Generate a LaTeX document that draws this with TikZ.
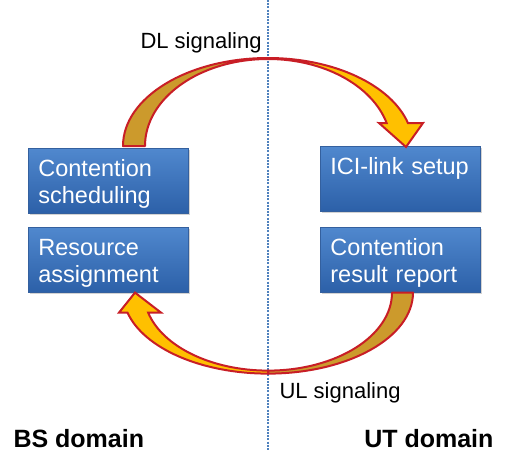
\documentclass[tikz,border=0pt]{standalone}
\usepackage{fontspec}
\setmainfont{Liberation Sans}
\usetikzlibrary{positioning,shadows}
\definecolor{arrowred}{RGB}{200,30,38}
\definecolor{frontyellow}{RGB}{255,192,0}
\definecolor{backgold}{RGB}{204,154,44}
\definecolor{boxtop}{RGB}{80,136,206}
\definecolor{boxbottom}{RGB}{44,96,168}
\definecolor{boxline}{RGB}{52,96,158}
\definecolor{splitblue}{RGB}{79,129,189}
\tikzset{
  task/.style={rectangle,draw=boxline,line width=0.8pt,
    top color=boxtop,bottom color=boxbottom,text=white,
    font=\fontsize{23.5}{27}\selectfont,text width=140pt,align=left,
    inner xsep=10pt,inner ysep=5pt,text height=23pt,text depth=32pt,
    drop shadow={opacity=0.35,shadow xshift=2pt,shadow yshift=-2pt}},
  backpart/.style={fill=backgold,draw=arrowred,line width=2pt,line join=round},
  frontpart/.style={fill=frontyellow,draw=arrowred,line width=2pt},
  signal/.style={font=\fontsize{22}{26}\selectfont},
  domainlabel/.style={font=\fontsize{25}{30}\selectfont\bfseries}
}

\begin{document}
\begin{tikzpicture}[x=1pt,y=-1pt,line cap=round]
  \useasboundingbox (0,0) rectangle (507,451);

  % ---- divider between the two domains ----
  \coordinate (splittop) at (268,0);
  \coordinate (splitbot) at (268,451);
  \draw[splitblue,line width=2.4pt,line cap=butt,dash pattern=on 2pt off 1.2pt]
    (splittop) -- (splitbot);

  % ---- BS side ----
  \node[task,anchor=north west] (cs) at (28,148) {Contention\\scheduling};
  \node[task,below=13pt of cs] (ra) {Resource\\assignment};

  % ---- UT side ----
  \node[task,anchor=north west] (ici) at (320,146) {ICI-link setup};
  \node[task,below=15pt of ici] (crr) {Contention\\result report};

  % ---- DL signaling arrow (cs -> ici) ----
  \coordinate (dlc) at (ici.north -| splittop);
  \begin{scope}[shift={(dlc)}]
    \path[backpart] (-145,0) arc[start angle=180,end angle=270,x radius=145,y radius=88]
      -- (0,-87) arc[start angle=270,end angle=180,x radius=123,y radius=87] -- cycle;
    \path[frontpart] (0,-88) arc[start angle=270,end angle=345,x radius=145,y radius=88]
      -- (155,-23) -- (138,1) -- (111,-23) -- (118.65,-22.96)
      arc[start angle=344.7,end angle=270,x radius=123,y radius=87] -- cycle;
  \end{scope}

  % ---- UL signaling arrow (crr -> ra) ----
  \coordinate (ulc) at (crr.south -| splittop);
  \begin{scope}[shift={(ulc)}]
    \path[backpart] (145,0) arc[start angle=0,end angle=90,x radius=145,y radius=81]
      -- (0,78) arc[start angle=90,end angle=0,x radius=124,y radius=78] -- cycle;
    \path[frontpart] (0,81) arc[start angle=90,end angle=165.7,x radius=145,y radius=81]
      -- (-149,20) -- (-133,0) -- (-107,20) -- (-119.85,20)
      arc[start angle=165.14,end angle=90,x radius=124,y radius=78] -- cycle;
  \end{scope}

  % ---- labels ----
  \node[signal,anchor=base west] (dl) at (137,48) {DL signaling};
  \node[signal,anchor=base west] (ul) at (276,398) {UL signaling};
  \node[domainlabel,anchor=base west] (bs) at (10,447) {BS domain};
  \node[domainlabel,anchor=base east] (ut) at (497,447) {UT domain};
\end{tikzpicture}
\end{document}
